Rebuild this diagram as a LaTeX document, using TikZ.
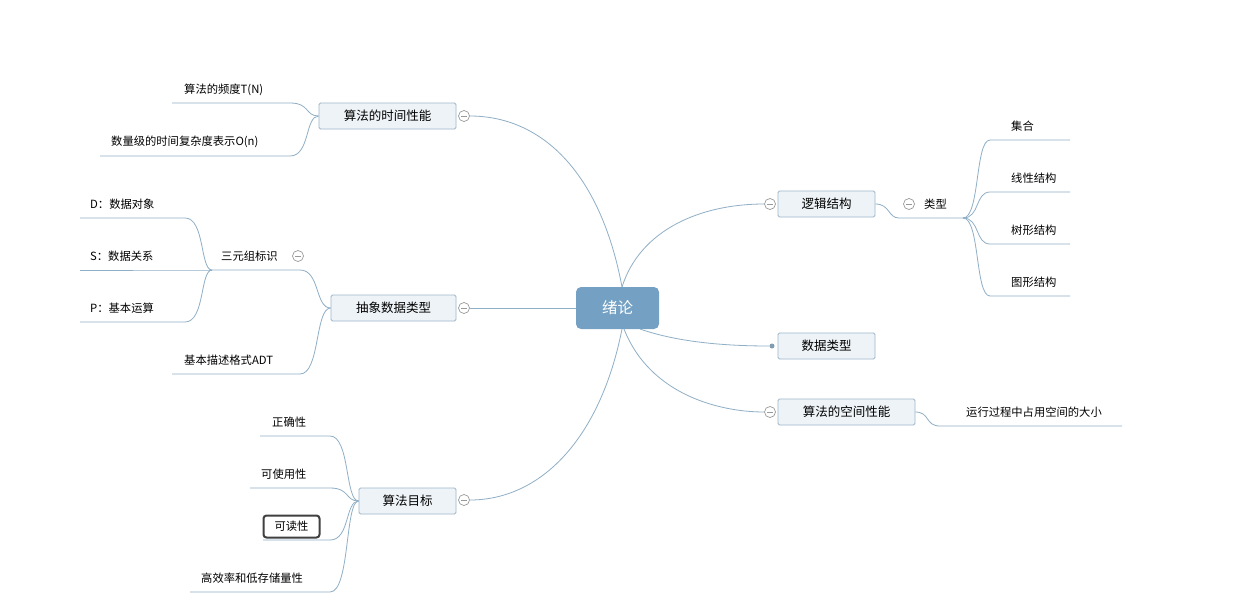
\documentclass[tikz,border=0pt]{standalone}
\usepackage{fontspec}
\setmainfont{Noto Sans CJK SC}
\begin{document}
\begin{tikzpicture}[x=1pt,y=-1pt,
  ln/.style={draw=lc,line width=0.8pt},
  topic/.style={draw=bc,fill=bf,rounded corners=1.5pt,line width=0.8pt,minimum height=26pt,inner sep=0pt,font=\fontsize{12.5}{14}\selectfont},
  txt/.style={inner sep=0pt,anchor=west,font=\fontsize{11.3}{13}\selectfont},
  coll/.style={circle,draw=gray!80,fill=white,minimum size=11pt,inner sep=0pt,line width=0.7pt,
    path picture={\draw[gray!80,line width=0.7pt] ([xshift=-3pt]path picture bounding box.center)--([xshift=3pt]path picture bounding box.center);}}]
\definecolor{lc}{HTML}{8FAFC6}
\definecolor{bc}{HTML}{9DB6CA}
\definecolor{bf}{HTML}{EEF3F7}
\definecolor{cf}{HTML}{74A1C3}
\useasboundingbox[fill=white] (0,0) rectangle (1260,603);
% center
\node[fill=cf,rounded corners=5pt,minimum width=83pt,minimum height=42pt,text=white,font=\fontsize{15.5}{17}\selectfont] (c) at (617.5,308) {绪论};
% right
\node[topic,minimum width=97pt] (lj) at (826.5,204) {逻辑结构};
\node[topic,minimum width=97pt] (sj) at (826.5,346) {数据类型};
\node[topic,minimum width=137pt] (kj) at (846.5,412) {算法的空间性能};
% left
\node[topic,minimum width=137pt] (sj2) at (387.5,116) {算法的时间性能};
\node[topic,minimum width=125pt] (cx) at (393.5,308) {抽象数据类型};
\node[topic,minimum width=97pt] (mb) at (407.5,501) {算法目标};
% collapse circles
\node[coll] (clj) at (770,204) {};
\node[coll] (ckj) at (770,412) {};
\node[coll] (csj) at (464,116) {};
\node[coll] (ccx) at (464,308) {};
\node[coll] (cmb) at (464,500) {};
\node[circle,fill=lc!90!black,minimum size=5pt,inner sep=0pt] (dsj) at (772,346) {};
% center connectors
\draw[ln] (622,287) .. controls (640,230) and (700,204) .. (clj.west);
\draw[ln] (622,287) .. controls (600,170) and (540,116) .. (csj.east);
\draw[ln] (c.west) -- (ccx.east);
\draw[ln] (622,329) .. controls (600,440) and (540,500) .. (cmb.east);
\draw[ln] (640,329) .. controls (680,343) and (730,346) .. (dsj);
\draw[ln] (624,329) .. controls (650,395) and (720,412) .. (ckj.west);
% 类型 branch
\node[coll] (clx) at (909,204) {};
\node[txt] (lx) at (924,204) {类型};
\coordinate (lxa) at (899,218); \coordinate (lxb) at (963,218);
\draw[ln] (lj.east) .. controls (890,204) and (888,218) .. (lxa) -- (lxb);
\foreach \t/\y/\n in {集合/126/a,线性结构/178/b,树形结构/230/c,图形结构/282/d}{
  \node[txt] (r\n) at (1011,\y) {\t};
  \draw[ln] (lxb) .. controls (980,218) and (975,\y+14) .. (990,\y+14) -- (1070,\y+14);
}
% space child
\node[txt] (kjc) at (966,412) {运行过程中占用空间的大小};
\draw[ln] (kj.east) .. controls (930,412) and (925,426) .. (940,426) -- (1122,426);
% time children
\node[txt] (t1) at (184,90) {算法的频度T(N)};
\node[txt] (t2) at (111,142) {数量级的时间复杂度表示O(n)};
\draw[ln] (sj2.west) .. controls (305,116) and (310,103) .. (290,103) -- (172,103);
\draw[ln] (sj2.west) .. controls (305,116) and (310,156) .. (290,156) -- (100,156);
% ADT children
\node[txt] (sy) at (221,256) {三元组标识};
\node[coll] (csy) at (298,256) {};
\node[txt] (adt) at (184,360) {基本描述格式ADT};
\draw[ln] (cx.west) .. controls (315,308) and (320,270) .. (300,270) -- (212,270);
\draw[ln] (cx.west) .. controls (315,308) and (320,374) .. (300,374) -- (172,374);
\node[txt] (d1) at (90,204) {D：数据对象};
\node[txt] (d2) at (90,256) {S：数据关系};
\node[txt] (d3) at (90,308) {P：基本运算};
\foreach \y in {218,270,322}{
  \draw[ln] (212,270) .. controls (200,270) and (205,\y) .. (185,\y) -- (80,\y);
}
% goal children
\node[txt] (g1) at (272,422) {正确性};
\node[txt] (g2) at (261,474) {可使用性};
\node[draw=black!75,line width=2pt,rounded corners=3pt,minimum width=56pt,minimum height=22pt,inner sep=0pt,font=\fontsize{11.3}{13}\selectfont] (g3) at (291.5,526.5) {可读性};
\node[txt] (g4) at (201,578) {高效率和低存储量性};
\draw[ln] (mb.west) .. controls (345,501) and (350,436) .. (330,436) -- (260,436);
\draw[ln] (mb.west) .. controls (345,501) and (350,488) .. (330,488) -- (250,488);
\draw[ln] (mb.west) .. controls (345,501) and (350,540) .. (330,540) -- (263,540);
\draw[ln] (mb.west) .. controls (345,501) and (350,592) .. (330,592) -- (190,592);
\end{tikzpicture}
\end{document}
